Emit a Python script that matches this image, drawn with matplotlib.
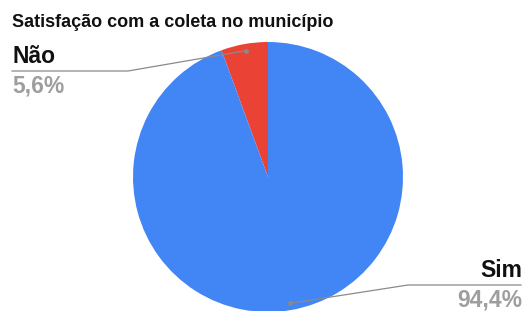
import numpy as np
from matplotlib import pyplot as plt

# data
labels = ["Não", "Sim"]
values = [5.6, 94.4]
pct_text = ["5,6%", "94,4%"]
colors = ["#ea4335", "#4285f4"]
title = "Satisfação com a coleta no município"

W, H = 525, 311
fig = plt.figure(figsize=(W / 100, H / 100), dpi=100)
ax = fig.add_axes([0, 0, 1, 1])

cx, cy, r = 268, 134, 135
wedges, _ = ax.pie(values, colors=colors, startangle=90, counterclock=True,
                   center=(cx, cy), radius=r,
                   wedgeprops=dict(linewidth=0))
ax.set_xlim(0, W)
ax.set_ylim(0, H)
ax.set_aspect('auto')
ax.axis('off')

font = 'Liberation Sans'
fig.text(12 / W, 284 / H, title, fontsize=13, fontweight='bold',
         family=font, color='#111111')

# label layout: elbow point, end of horizontal line, text anchor
layout = [
    dict(elbow=(128, 240), end=12, tx=12, ha='left', ly=248, py=218),
    dict(elbow=(408, 26), end=521, tx=522, ha='right', ly=34, py=5),
]
line_col = '#8a8a8a'
for w, lab, pt, lo in zip(wedges, labels, pct_text, layout):
    mid = np.deg2rad((w.theta1 + w.theta2) / 2)
    px = cx + 0.95 * r * np.cos(mid)
    py = cy + 0.95 * r * np.sin(mid)
    ex, ey = lo['elbow']
    ax.plot([px, ex, lo['end']], [py, ey, ey], color=line_col, lw=0.9)
    ax.plot(px, py, 'o', color=line_col, ms=2.5)
    ax.text(lo['tx'], lo['ly'], lab, ha=lo['ha'], va='baseline',
            fontsize=16.5, fontweight='bold', family=font, color='#111111')
    ax.text(lo['tx'], lo['py'], pt, ha=lo['ha'], va='baseline',
            fontsize=16.5, fontweight='bold', family=font, color='#9e9e9e')

fig.savefig("out.png", dpi=100)
